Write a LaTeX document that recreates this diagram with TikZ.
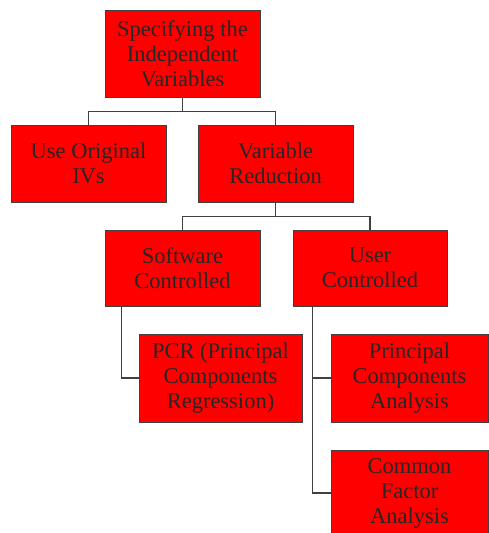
\documentclass[tikz,border=0pt]{standalone}
\usepackage{fontspec}
\setmainfont{Liberation Serif}
\usepackage{xcolor}
\definecolor{boxred}{RGB}{255,0,0}
\definecolor{boxline}{RGB}{64,64,64}
\newcommand{\boxfont}{\fontsize{22.5}{25}\selectfont}

\begin{document}
\begin{tikzpicture}[x=1pt,y=-1pt,
  box/.style={draw=boxline,line width=1pt,fill=boxred,text=black!85,
    align=center,inner sep=0pt,font=\boxfont},
  link/.style={draw=boxline,line width=1.1pt}]
  \useasboundingbox (0,0) rectangle (488,533);
  \node[box,minimum width=155pt,minimum height=87pt] (spec) at (182.5,53.5) {Specifying the\\Independent\\Variables};
  \node[box,minimum width=155pt,minimum height=77pt] (orig) at (88.5,163.5) {Use Original\\IVs};
  \node[box,minimum width=155pt,minimum height=77pt] (vred) at (275.5,163.5) {Variable\\Reduction};
  \node[box,minimum width=155pt,minimum height=76pt] (soft) at (182.5,268) {Software\\Controlled};
  \node[box,minimum width=154pt,minimum height=76pt] (user) at (370,268) {User\\Controlled};
  \node[box,minimum width=163pt,minimum height=88pt] (pcr) at (220.5,378) {PCR (Principal\\Components\\Regression)};
  \node[box,minimum width=157pt,minimum height=88pt] (pca) at (409.5,378) {Principal\\Components\\Analysis};
  \node[box,minimum width=157pt,minimum height=86pt] (cfa) at (409.5,493) {Common\\Factor\\Analysis};
  \draw[link] (spec.south) -- ++(0,14) -| (orig.north);
  \draw[link] (spec.south) -- ++(0,14) -| (vred.north);
  \draw[link] (vred.south) -- ++(0,14) -| (soft.north);
  \draw[link] (vred.south) -- ++(0,14) -| (user.north);
  \draw[link] ([xshift=17pt]soft.south west) |- (pcr.west);
  \draw[link] ([xshift=20pt]user.south west) |- (pca.west);
  \draw[link] ([xshift=20pt]user.south west) |- (cfa.west);
\end{tikzpicture}
\end{document}
